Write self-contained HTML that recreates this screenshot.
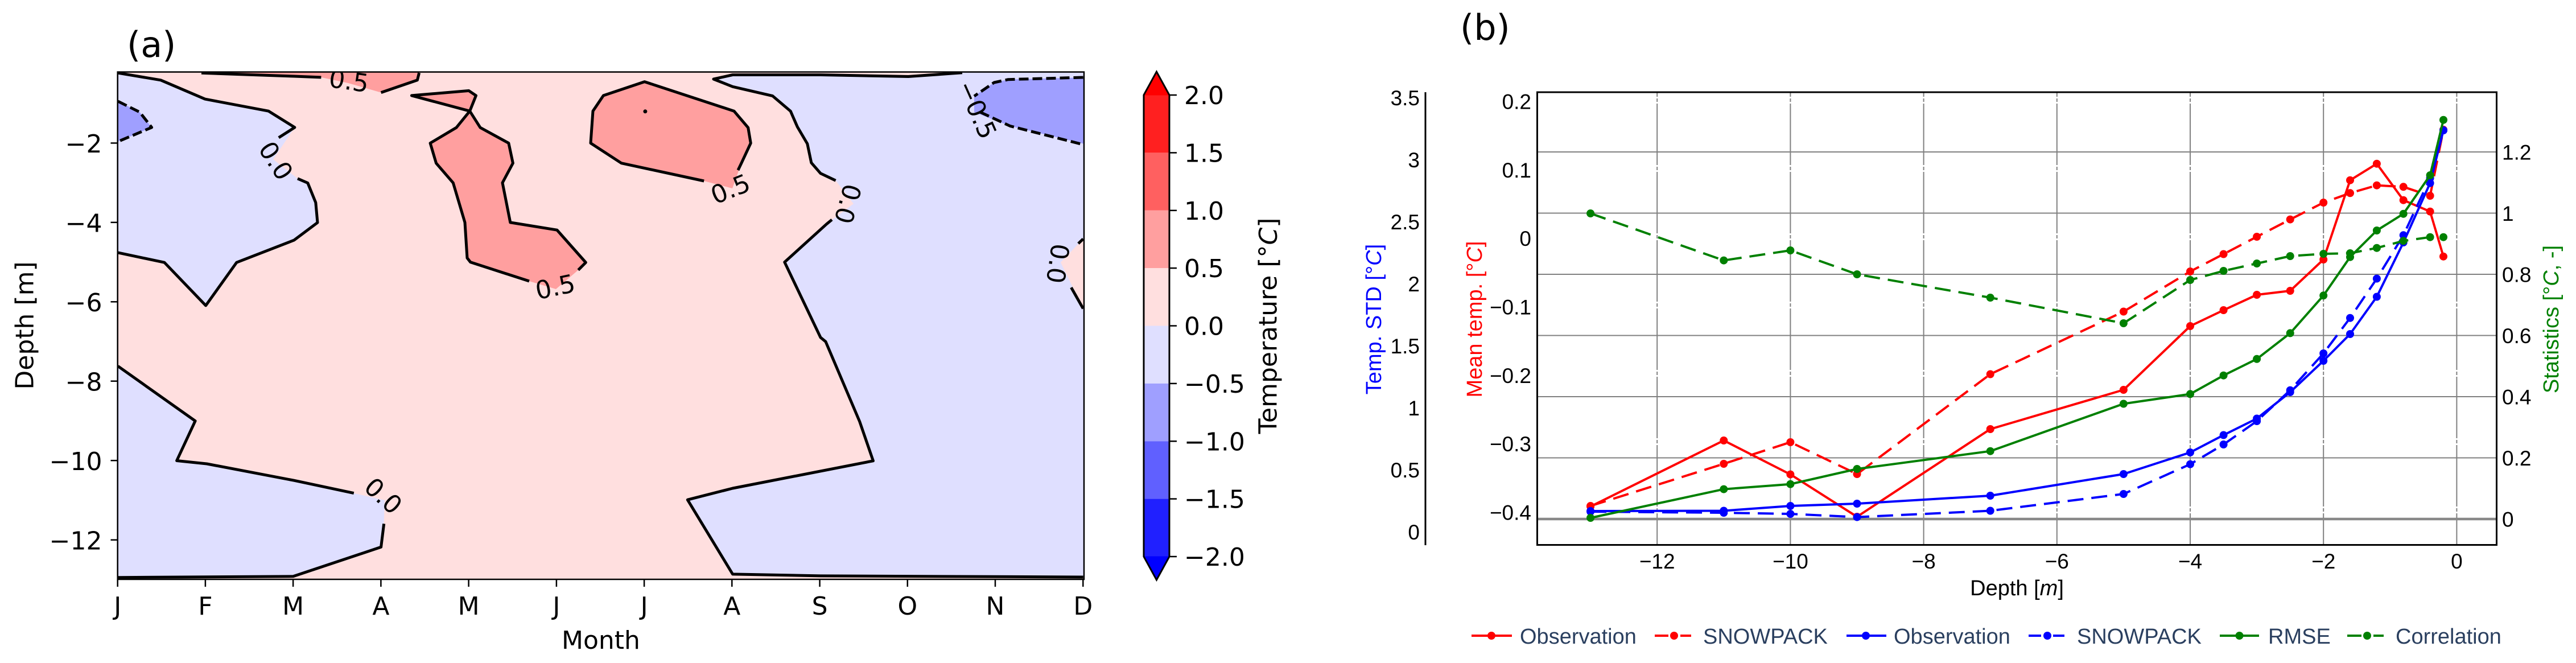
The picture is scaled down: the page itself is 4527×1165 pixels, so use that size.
<!DOCTYPE html>
<html><head><meta charset="utf-8">
<style>
html,body{margin:0;padding:0;background:#fff;}
svg{display:block;}
.a{font-family:"DejaVu Sans","Liberation Sans",sans-serif;font-size:44px;fill:#000;}
.b{font-family:"Liberation Sans","DejaVu Sans",sans-serif;font-size:37px;fill:#000;}
.lg{font-family:"Liberation Sans","DejaVu Sans",sans-serif;font-size:38px;fill:#2a3f5f;}
</style></head><body>
<svg width="4527" height="1165" viewBox="0 0 4527 1165" xmlns="http://www.w3.org/2000/svg">
<defs>
<clipPath id="ca"><rect x="206.7" y="126.5" width="1698.3" height="891.5"/></clipPath>
<clipPath id="cb"><rect x="2701.5" y="162" width="1686" height="795.5"/></clipPath>
<marker id="mr" markerWidth="16" markerHeight="16" refX="8" refY="8" markerUnits="userSpaceOnUse"><circle cx="8" cy="8" r="7" fill="#ff0000"/></marker>
<marker id="mb" markerWidth="16" markerHeight="16" refX="8" refY="8" markerUnits="userSpaceOnUse"><circle cx="8" cy="8" r="7" fill="#0000ff"/></marker>
<marker id="mg" markerWidth="16" markerHeight="16" refX="8" refY="8" markerUnits="userSpaceOnUse"><circle cx="8" cy="8" r="7" fill="#008000"/></marker>
</defs>
<rect width="4527" height="1165" fill="#fff"/>

<!-- ================= PANEL A ================= -->
<text class="a" x="223" y="100" style="font-size:62px">(a)</text>
<g clip-path="url(#ca)">
<rect x="206.7" y="126.5" width="1698.3" height="891.5" fill="#ffdfdf"/>
<path d="M200,126.5 L207.3,128.2 L282.5,140.8 L360.3,174.1 L472,195.2 L517.9,223.9 L480,280 L523,313.8 L540.8,321.5 L554.8,355.9 L558,391.1 L516.6,422.1 L415.8,461.2 L361.6,536.9 L288.9,461.2 L200,443.9 Z" fill="#dfdfff"/>
<path d="M200,178 L207.3,178 L245.5,197 L266.6,223.9 L207.3,248.8 L200,248.8 Z" fill="#9f9fff"/>
<path d="M200,643.4 L207.3,643.4 L343.1,739.7 L310.6,809.5 L363.5,815 L516.6,844.2 L621.8,866.6 L676,879 L674.7,920.3 L669.6,961.3 L515.3,1012.8 L207.3,1014.7 L200,1014.7 Z" fill="#dfdfff"/>
<path d="M1254,139 L1287.6,131.5 L1442,131.5 L1596.3,134.5 L1691,127.8 L1691,120 L1910,120 L1910,1014 L1903.6,1014 L1442,1011.9 L1287.6,1008.9 L1208.3,878.2 L1287.6,858 L1534.5,809.8 L1510.7,740.7 L1451,600.3 L1442,592.9 L1378.8,460.6 L1452.5,393.8 L1500,358 L1468.6,317.2 L1442,304.6 L1425.8,286 L1418.8,252.6 L1401.3,222.9 L1389.3,195.4 L1357.8,168.6 L1287.6,152.3 Z" fill="#dfdfff"/>
<path d="M1910,419.8 L1903.5,419.8 L1864,461 L1903.5,542.3 L1910,542.3 Z" fill="#ffdfdf"/>
<path d="M1910,136 L1771.7,139.7 L1747,145 L1712,169 L1712,197 L1775,221.4 L1910,254 Z" fill="#9f9fff"/>
<path d="M354,120 L354,128.3 L516.6,134 L564.4,135.9 L612,146 L669.6,162.6 L733.4,140.8 L736.6,126.5 L736.6,120 Z" fill="#ff9f9f"/>
<path d="M723.4,167.9 L823.9,159.4 L836.5,167.9 L825.6,195.2 L844,224.2 L893.9,251.5 L901.4,286.7 L883,321.2 L896.8,390.9 L978.9,404.2 L1029.4,461.2 L1016.2,474.5 L977,508 L930,494 L826.7,460.6 L821,453.3 L817,390.9 L796.3,321.2 L766.5,286.7 L756.1,251.5 L802,224.2 L825.6,195.2 Z" fill="#ff9f9f"/>
<path d="M1132.7,143.6 L1290,195.2 L1314.7,224.2 L1319.3,251.5 L1303,286.5 L1287,331 L1237.2,318 L1092,286.7 L1038,251.5 L1042,195.2 L1060.4,167.9 Z" fill="#ff9f9f"/>
<g fill="none" stroke="#000" stroke-width="5" stroke-linejoin="round">
<polyline points="207.3,128.2 282.5,140.8 360.3,174.1 472,195.2 517.9,223.9 489.8,241.9"/>
<polyline points="523,313.8 540.8,321.5 554.8,355.9 558,391.1 516.6,422.1 415.8,461.2 361.6,536.9 288.9,461.2 207.3,443.9"/>
<polyline points="207.3,178 245.5,197 266.6,223.9 207.3,248.8" stroke-dasharray="17,7"/>
<polyline points="207.3,643.4 343.1,739.7 310.6,809.5 363.5,815 516.6,844.2 621.8,866.6"/>
<polyline points="674.7,920.3 669.6,961.3 515.3,1012.8 207.3,1014.7"/>
<polyline points="354,128.3 516.6,134 564.4,135.9"/>
<polyline points="669.6,162.6 733.4,140.8 736.6,128"/>
<polyline points="930,494 826.7,460.6 821,453.3 817,390.9 796.3,321.2 766.5,286.7 756.1,251.5 802,224.2 825.6,195.2 836.5,167.9 823.9,159.4 723.4,167.9 825.6,195.2 844,224.2 893.9,251.5 901.4,286.7 883,321.2 896.8,390.9 978.9,404.2 1029.4,461.2 1016.2,474.5"/>
<polyline points="1237.2,318 1092,286.7 1038,251.5 1042,195.2 1060.4,167.9 1132.7,143.6 1290,195.2 1314.7,224.2 1319.3,251.5 1303,286.5 1297,299"/>
<polyline points="1903.6,1014 1442,1011.9 1287.6,1008.9 1208.3,878.2 1287.6,858 1534.5,809.8 1510.7,740.7 1451,600.3 1442,592.9 1378.8,460.6 1452.5,393.8 1462,386"/>
<polyline points="1468.6,317.2 1442,304.6 1425.8,286 1418.8,252.6 1401.3,222.9 1389.3,195.4 1357.8,168.6 1287.6,152.3 1254,139 1287.6,131.5 1442,131.5 1596.3,134.5 1691,127.8"/>
<polyline points="1903.5,419.8 1895,428"/>
<polyline points="1882.5,505.2 1903.5,542.3"/>
<polyline points="1903.5,136 1771.7,139.7 1747,145 1712,169" stroke-dasharray="17,7"/>
<polyline points="1722.5,197 1775,221.4 1903.5,254" stroke-dasharray="17,7"/>
</g>
<circle cx="1133.9" cy="195.8" r="3.5" fill="#000"/>
<g class="a" text-anchor="middle" dominant-baseline="central">
<text transform="translate(484,283) rotate(57)">0.0</text>
<text transform="translate(613,143) rotate(8)">0.5</text>
<text transform="translate(976,505) rotate(-12)">0.5</text>
<text transform="translate(1284,333) rotate(-22)">0.5</text>
<text transform="translate(1489,358) rotate(105)">0.0</text>
<text transform="translate(1716,193) rotate(66)">−0.5</text>
<text transform="translate(1858,463) rotate(98)">0.0</text>
<text transform="translate(673,872) rotate(42)">0.0</text>
</g>
</g>
<rect x="206.7" y="126.5" width="1698.3" height="891.5" fill="none" stroke="#000" stroke-width="2.5"/>
<g stroke="#000" stroke-width="2.5">
<line x1="194.5" y1="251.4" x2="206.7" y2="251.4"/>
<line x1="194.5" y1="390.8" x2="206.7" y2="390.8"/>
<line x1="194.5" y1="530.3" x2="206.7" y2="530.3"/>
<line x1="194.5" y1="669.7" x2="206.7" y2="669.7"/>
<line x1="194.5" y1="809.2" x2="206.7" y2="809.2"/>
<line x1="194.5" y1="948.7" x2="206.7" y2="948.7"/>
<line x1="206.7" y1="1018" x2="206.7" y2="1031"/>
<line x1="360.9" y1="1018" x2="360.9" y2="1031"/>
<line x1="515.1" y1="1018" x2="515.1" y2="1031"/>
<line x1="669.4" y1="1018" x2="669.4" y2="1031"/>
<line x1="823.6" y1="1018" x2="823.6" y2="1031"/>
<line x1="977.9" y1="1018" x2="977.9" y2="1031"/>
<line x1="1132.1" y1="1018" x2="1132.1" y2="1031"/>
<line x1="1286.3" y1="1018" x2="1286.3" y2="1031"/>
<line x1="1440.6" y1="1018" x2="1440.6" y2="1031"/>
<line x1="1594.8" y1="1018" x2="1594.8" y2="1031"/>
<line x1="1749" y1="1018" x2="1749" y2="1031"/>
<line x1="1903.3" y1="1018" x2="1903.3" y2="1031"/>
</g>
<g class="a" text-anchor="end">
<text x="179.5" y="268">−2</text>
<text x="179.5" y="407.5">−4</text>
<text x="179.5" y="547">−6</text>
<text x="179.5" y="686.5">−8</text>
<text x="179.5" y="826">−10</text>
<text x="179.5" y="965.5">−12</text>
</g>
<g class="a" text-anchor="middle">
<text x="206.7" y="1080">J</text>
<text x="360.9" y="1080">F</text>
<text x="515.1" y="1080">M</text>
<text x="669.4" y="1080">A</text>
<text x="823.6" y="1080">M</text>
<text x="977.9" y="1080">J</text>
<text x="1132.1" y="1080">J</text>
<text x="1286.3" y="1080">A</text>
<text x="1440.6" y="1080">S</text>
<text x="1594.8" y="1080">O</text>
<text x="1749" y="1080">N</text>
<text x="1903.3" y="1080">D</text>
<text x="1056" y="1140">Month</text>
<text transform="translate(44,572) rotate(-90)" dominant-baseline="central">Depth [m]</text>
</g>

<rect x="2010" y="167" width="45" height="101.4" fill="#ff2020"/>
<rect x="2010" y="268.4" width="45" height="101.4" fill="#ff6060"/>
<rect x="2010" y="369.8" width="45" height="101.4" fill="#ff9f9f"/>
<rect x="2010" y="471.1" width="45" height="101.4" fill="#ffdfdf"/>
<rect x="2010" y="572.5" width="45" height="101.4" fill="#dfdfff"/>
<rect x="2010" y="673.9" width="45" height="101.4" fill="#9f9fff"/>
<rect x="2010" y="775.3" width="45" height="101.4" fill="#6060ff"/>
<rect x="2010" y="876.6" width="45" height="101.4" fill="#2020ff"/>
<polygon points="2010,167.5 2032.5,126 2055,167.5" fill="#ff0000"/>
<polygon points="2010,977.5 2032.5,1019 2055,977.5" fill="#0000ff"/>
<path d="M2010,167 L2032.5,126 L2055,167 L2055,978 L2032.5,1019 L2010,978 Z" fill="none" stroke="#000" stroke-width="3"/>
<g stroke="#000" stroke-width="2.5">
<line x1="2055" y1="167" x2="2068" y2="167"/>
<line x1="2055" y1="268.4" x2="2068" y2="268.4"/>
<line x1="2055" y1="369.8" x2="2068" y2="369.8"/>
<line x1="2055" y1="471.1" x2="2068" y2="471.1"/>
<line x1="2055" y1="572.5" x2="2068" y2="572.5"/>
<line x1="2055" y1="673.9" x2="2068" y2="673.9"/>
<line x1="2055" y1="775.3" x2="2068" y2="775.3"/>
<line x1="2055" y1="876.6" x2="2068" y2="876.6"/>
<line x1="2055" y1="978" x2="2068" y2="978"/>
</g>
<g class="a">
<text x="2081" y="183">2.0</text>
<text x="2081" y="284.4">1.5</text>
<text x="2081" y="385.8">1.0</text>
<text x="2081" y="487.1">0.5</text>
<text x="2081" y="588.5">0.0</text>
<text x="2081" y="689.9">−0.5</text>
<text x="2081" y="791.3">−1.0</text>
<text x="2081" y="892.6">−1.5</text>
<text x="2081" y="994">−2.0</text>
<text transform="translate(2229,572.5) rotate(-90)" text-anchor="middle" dominant-baseline="central">Temperature [°<tspan font-style="italic">C</tspan>]</text>
</g>

<!-- ================= PANEL B ================= -->
<text class="a" x="2566" y="70" style="font-size:62px">(b)</text>
<g stroke="#808080" stroke-width="2" fill="none">
<g stroke-dasharray="108,3,6,3" stroke-dashoffset="100">
<line x1="2912.2" y1="162" x2="2912.2" y2="957.5"/>
<line x1="3146.4" y1="162" x2="3146.4" y2="957.5"/>
<line x1="3380.6" y1="162" x2="3380.6" y2="957.5"/>
<line x1="3614.8" y1="162" x2="3614.8" y2="957.5"/>
<line x1="3849" y1="162" x2="3849" y2="957.5"/>
<line x1="4083.2" y1="162" x2="4083.2" y2="957.5"/>
<line x1="4317.4" y1="162" x2="4317.4" y2="957.5"/>
</g>
<line x1="2701.5" y1="804.5" x2="4387.5" y2="804.5"/>
<line x1="2701.5" y1="697" x2="4387.5" y2="697"/>
<line x1="2701.5" y1="589.5" x2="4387.5" y2="589.5"/>
<line x1="2701.5" y1="482" x2="4387.5" y2="482"/>
<line x1="2701.5" y1="374.5" x2="4387.5" y2="374.5"/>
<line x1="2701.5" y1="267" x2="4387.5" y2="267"/>
<line x1="2701.5" y1="912" x2="4387.5" y2="912" stroke-width="4.5" stroke="#888"/>
</g>
<g clip-path="url(#cb)" fill="none" stroke-width="4" stroke-linejoin="round">
<polyline stroke="#ff0000" marker-start="url(#mr)" marker-mid="url(#mr)" marker-end="url(#mr)" points="2795.1,890 3029.3,774 3146.4,833.6 3263.5,908 3497.7,754 3731.9,685 3849,573 3907.6,545 3966.1,518 4024.7,511 4083.2,456 4130,316.7 4176.9,287.7 4223.7,351.7 4270.6,371.7 4294,450.7"/>
<polyline stroke="#ff0000" stroke-dasharray="28,14" marker-start="url(#mr)" marker-mid="url(#mr)" marker-end="url(#mr)" points="2795.1,889 3029.3,815 3146.4,777 3263.5,833 3497.7,657.5 3731.9,547.5 3849,477 3907.6,446.5 3966.1,416 4024.7,385.6 4083.2,356 4130,339.3 4176.9,325.7 4223.7,328.3 4270.6,344 4294,228"/>
<polyline stroke="#0000ff" marker-start="url(#mb)" marker-mid="url(#mb)" marker-end="url(#mb)" points="2795.1,898 3029.3,897.5 3146.4,889 3263.5,885 3497.7,871 3731.9,833 3849,795 3907.6,764.5 3966.1,735.5 4024.7,689 4083.2,634 4130,587 4176.9,521.5 4223.7,426 4270.6,321.7 4294,229"/>
<polyline stroke="#0000ff" stroke-dasharray="28,14" marker-start="url(#mb)" marker-mid="url(#mb)" marker-end="url(#mb)" points="2795.1,899 3029.3,901 3146.4,903 3263.5,908.6 3497.7,897.5 3731.9,868 3849,815.7 3907.6,781 3966.1,740 4024.7,685.7 4083.2,621 4130,558.7 4176.9,489.6 4223.7,413.3 4270.6,313 4294,229"/>
<polyline stroke="#008000" marker-start="url(#mg)" marker-mid="url(#mg)" marker-end="url(#mg)" points="2795.1,910 3029.3,859.6 3146.4,850.7 3263.5,824 3497.7,792.7 3731.9,709.5 3849,692.4 3907.6,659.7 3966.1,630.8 4024.7,585.4 4083.2,519.3 4130,451.7 4176.9,405 4223.7,375.7 4270.6,308 4294,210.7"/>
<polyline stroke="#008000" stroke-dasharray="28,14" marker-start="url(#mg)" marker-mid="url(#mg)" marker-end="url(#mg)" points="2795.1,375 3029.3,457.6 3146.4,440 3263.5,482 3497.7,523 3731.9,568 3849,492 3907.6,476 3966.1,463 4024.7,450 4083.2,446 4130,445 4176.9,435.7 4223.7,423.3 4270.6,416.7 4294,416.7"/>
</g>
<rect x="2701.5" y="162" width="1686" height="795.5" fill="none" stroke="#000" stroke-width="3"/>
<line x1="2505" y1="162" x2="2505" y2="958" stroke="#000" stroke-width="3"/>
<g class="b" text-anchor="middle">
<text x="2912.2" y="999">−12</text>
<text x="3146.4" y="999">−10</text>
<text x="3380.6" y="999">−8</text>
<text x="3614.8" y="999">−6</text>
<text x="3849" y="999">−4</text>
<text x="4083.2" y="999">−2</text>
<text x="4317.4" y="999">0</text>
</g>
<g class="b" text-anchor="end">
<text x="2691" y="191.5">0.2</text>
<text x="2691" y="311.8">0.1</text>
<text x="2691" y="432">0</text>
<text x="2691" y="552.5">−0.1</text>
<text x="2691" y="672.8">−0.2</text>
<text x="2691" y="793">−0.3</text>
<text x="2691" y="913.5">−0.4</text>
<text x="2495" y="185">3.5</text>
<text x="2495" y="294">3</text>
<text x="2495" y="403">2.5</text>
<text x="2495" y="512">2</text>
<text x="2495" y="621">1.5</text>
<text x="2495" y="730">1</text>
<text x="2495" y="839">0.5</text>
<text x="2495" y="948">0</text>
</g>
<g class="b">
<text x="4397" y="280.5">1.2</text>
<text x="4397" y="388">1</text>
<text x="4397" y="495.5">0.8</text>
<text x="4397" y="603">0.6</text>
<text x="4397" y="710.5">0.4</text>
<text x="4397" y="818">0.2</text>
<text x="4397" y="925.5">0</text>
</g>
<g class="b" style="font-size:38px" text-anchor="middle">
<text x="3544.5" y="1046">Depth [<tspan font-style="italic">m</tspan>]</text>
<text transform="translate(2592,561) rotate(-90)" dominant-baseline="central" fill="#ff0000">Mean temp. [°<tspan font-style="italic">C</tspan>]</text>
<text transform="translate(2415,561) rotate(-90)" dominant-baseline="central" fill="#0000ff">Temp. STD [°<tspan font-style="italic">C</tspan>]</text>
<text transform="translate(4484,561) rotate(-90)" dominant-baseline="central" fill="#008000">Statistics [°<tspan font-style="italic">C</tspan>, -]</text>
</g>

<g stroke-width="4">
<line x1="2586" y1="1117" x2="2657" y2="1117" stroke="#ff0000"/>
<circle cx="2621" cy="1117" r="7" fill="#ff0000"/>
<line x1="2908" y1="1117" x2="2932" y2="1117" stroke="#ff0000"/>
<line x1="2953" y1="1117" x2="2972" y2="1117" stroke="#ff0000"/>
<circle cx="2942" cy="1117" r="7" fill="#ff0000"/>
<line x1="3245" y1="1117" x2="3315" y2="1117" stroke="#0000ff"/>
<circle cx="3279" cy="1117" r="7" fill="#0000ff"/>
<line x1="3565" y1="1117" x2="3587" y2="1117" stroke="#0000ff"/>
<line x1="3608" y1="1117" x2="3628" y2="1117" stroke="#0000ff"/>
<circle cx="3598" cy="1117" r="7" fill="#0000ff"/>
<line x1="3901" y1="1117" x2="3970" y2="1117" stroke="#008000"/>
<circle cx="3935.5" cy="1117" r="7" fill="#008000"/>
<line x1="4125" y1="1117" x2="4150" y2="1117" stroke="#008000"/>
<line x1="4171" y1="1117" x2="4189" y2="1117" stroke="#008000"/>
<circle cx="4160" cy="1117" r="7" fill="#008000"/>
</g>
<g class="lg">
<text x="2671" y="1131">Observation</text>
<text x="2993" y="1131">SNOWPACK</text>
<text x="3328" y="1131">Observation</text>
<text x="3650" y="1131">SNOWPACK</text>
<text x="3986" y="1131">RMSE</text>
<text x="4210" y="1131">Correlation</text>
</g>
</svg>
</body></html>
